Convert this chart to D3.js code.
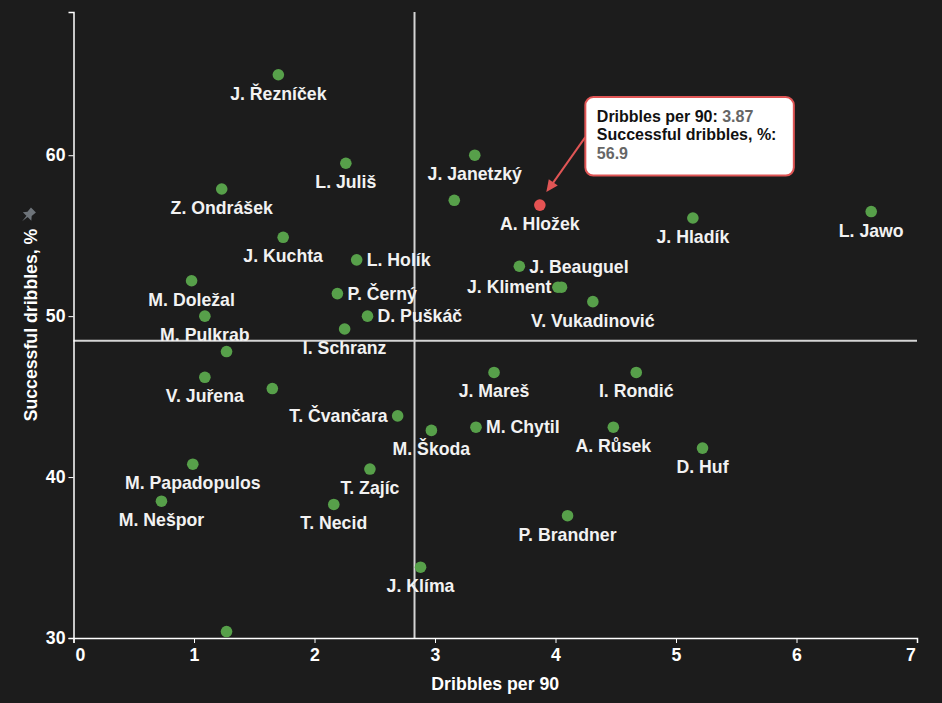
<!DOCTYPE html>
<html>
<head>
<meta charset="utf-8">
<script src="https://cdn.jsdelivr.net/npm/d3@7"></script>
<style>
  html, body { margin: 0; padding: 0; background: #1c1c1c; }
  svg { display: block; font-family: "Liberation Sans", Arial, sans-serif; }
</style>
</head>
<body>
<svg id="chart" width="942" height="703"></svg>
<script>
// ---- data ----
const players = ["J. Řezníček","Z. Ondrášek","J. Kuchta","M. Doležal","M. Pulkrab","L. Juliš","J. Janetzký","","A. Hložek",
  "L. Holík","P. Černý","D. Puškáč","I. Schranz","J. Beauguel","J. Kliment","","V. Vukadinović","J. Hladík","L. Jawo",
  "","V. Juřena","","T. Čvančara","M. Papadopulos","M. Nešpor","","J. Mareš","M. Škoda","M. Chytil","T. Zajíc",
  "T. Necid","P. Brandner","J. Klíma","A. Růsek","I. Rondić","D. Huf"];
const dribblesPer90 = [1.70,1.23,1.74,0.98,1.09,2.26,3.33,3.16,3.87,
  2.35,2.19,2.44,2.25,3.70,4.05,4.02,4.31,5.14,6.62,
  1.27,1.09,1.65,2.69,0.99,0.73,1.27,3.49,2.97,3.34,2.46,
  2.16,4.10,2.88,4.48,4.67,5.22];
const successPct = [65.0,57.9,54.9,52.2,50.0,59.5,60.0,57.2,56.9,
  53.5,51.4,50.0,49.2,53.1,51.8,51.8,50.9,56.1,56.5,
  47.8,46.2,45.5,43.8,40.8,38.5,30.4,46.5,42.9,43.1,40.5,
  38.3,37.6,34.4,43.1,46.5,41.8];
const labelSide = ["below","below","below","below","below","below","below","none","below",
  "right","right","right","below","right","left","none","below","below","below",
  "none","below","none","left","below","below","none","below","below","right","below",
  "below","below","below","below","below","below"];
const highlighted = "A. Hložek";
const xTicks = [0,1,2,3,4,5,6,7];
const yTicks = [30,40,50,60];
const xDomain = [0,7];
const yDomain = [30,68.9];
const avgX = 2.83;
const avgY = 48.47;
const xTitle = "Dribbles per 90";
const yTitle = "Successful dribbles, %";
const tooltipLines = [["Dribbles per 90: ","3.87"],["Successful dribbles, %: ",""],["","56.9"]];

// ---- layout ----
const W = 942, H = 703;
const FS = 17.7;
const margin = {left: 73.5, right: 25, top: 12, bottom: 65};
const svg = d3.select("#chart");
svg.append("rect").attr("width", W).attr("height", H).attr("fill", "#1c1c1c");

const x = d3.scaleLinear().domain(xDomain).range([margin.left, W - margin.right]);
const y = d3.scaleLinear().domain(yDomain).range([H - margin.bottom, margin.top]);

// average lines
svg.append("line").attr("x1", x(avgX)).attr("x2", x(avgX)).attr("y1", y(yDomain[0])).attr("y2", y(yDomain[1]))
  .attr("stroke", "#d4d4d4").attr("stroke-width", 2);
svg.append("line").attr("x1", x(xDomain[0])).attr("x2", x(xDomain[1])).attr("y1", y(avgY)).attr("y2", y(avgY))
  .attr("stroke", "#d4d4d4").attr("stroke-width", 2);

// axes
const xAxis = svg.append("g").attr("transform", `translate(0,${y(yDomain[0])})`)
  .call(d3.axisBottom(x).tickValues(xTicks).tickSize(5).tickPadding(5).tickFormat(d3.format("d")));
const yAxis = svg.append("g").attr("transform", `translate(${x(xDomain[0])},0)`)
  .call(d3.axisLeft(y).tickValues(yTicks).tickSize(5).tickPadding(3).tickFormat(d3.format("d")));
[xAxis, yAxis].forEach(g => {
  g.select(".domain").attr("stroke", "#ffffff").attr("stroke-width", 1.5);
  g.selectAll(".tick line").attr("stroke", "#ffffff");
  g.selectAll(".tick text").attr("fill", "#ffffff").attr("font-size", FS).attr("font-weight", "bold")
    .attr("font-family", "'Liberation Sans', Arial, sans-serif");
});
xAxis.selectAll(".tick text").attr("dx", d => d === xTicks[0] ? 6.5 : (d === xTicks[xTicks.length-1] ? -6.5 : 0));

// axis titles
svg.append("text").attr("x", (x(xDomain[0]) + x(xDomain[1])) / 2).attr("y", 690)
  .attr("text-anchor", "middle").attr("fill", "#ffffff").attr("font-size", FS).attr("font-weight", "bold").text(xTitle);
const yMid = (y(yDomain[0]) + y(yDomain[1])) / 2;
svg.append("text").attr("transform", `translate(36.5,${yMid}) rotate(-90)`)
  .attr("text-anchor", "middle").attr("fill", "#ffffff").attr("font-size", FS).attr("font-weight", "bold").text(yTitle);
// pin icon
svg.append("g").attr("transform", `translate(28.5,${yMid - 110}) rotate(45)`)
  .append("path").attr("d", "M-3.5,-7 L3.5,-7 L3,-1.5 L6,2 L-6,2 L-3,-1.5 Z M-0.8,2 L0.8,2 L0,9 Z")
  .attr("fill", "#6e747a");

// points
const data = players.map((n, i) => ({name: n, dx: dribblesPer90[i], sp: successPct[i], side: labelSide[i]}));
svg.append("g").selectAll("circle").data(data).join("circle")
  .attr("cx", d => x(d.dx)).attr("cy", d => y(d.sp)).attr("r", 5.8)
  .attr("fill", d => d.name === highlighted ? "#e55353" : "#57a04a");

// labels
svg.append("g").selectAll("text").data(data.filter(d => d.side !== "none" && d.name)).join("text")
  .attr("x", d => d.side === "right" ? x(d.dx) + 10 : d.side === "left" ? x(d.dx) - 10 : x(d.dx))
  .attr("y", d => d.side === "below" ? y(d.sp) + 25 : y(d.sp) + 6.3)
  .attr("text-anchor", d => d.side === "right" ? "start" : d.side === "left" ? "end" : "middle")
  .attr("fill", "#f2f2f2").attr("font-size", FS).attr("font-weight", "bold")
  .text(d => d.name);

// tooltip / annotation
const hp = data.find(d => d.name === highlighted);
const px = x(hp.dx), py = y(hp.sp);
const tip = svg.append("g");
const bx = px + 45.5, by = py - 108, bw = 208.5, bh = 78.5;
const ax1 = bx, ay1 = by + 40, ax2 = px + 6.5, ay2 = py - 13;
tip.append("line").attr("x1", ax1).attr("y1", ay1).attr("x2", ax2 + 3).attr("y2", ay2 - 4)
  .attr("stroke", "#e05555").attr("stroke-width", 2);
const ang = Math.atan2(ay2 - ay1, ax2 - ax1);
const hl = 12, hw = 5.5;
const p1 = [ax2 - hl * Math.cos(ang) + hw * Math.sin(ang), ay2 - hl * Math.sin(ang) - hw * Math.cos(ang)];
const p2 = [ax2 - hl * Math.cos(ang) - hw * Math.sin(ang), ay2 - hl * Math.sin(ang) + hw * Math.cos(ang)];
tip.append("path").attr("d", `M${ax2},${ay2}L${p1[0]},${p1[1]}L${p2[0]},${p2[1]}Z`).attr("fill", "#e05555");
tip.append("rect").attr("x", bx).attr("y", by).attr("width", bw).attr("height", bh).attr("rx", 8)
  .attr("fill", "#ffffff").attr("stroke", "#e05555").attr("stroke-width", 2);
tooltipLines.forEach((ln, i) => {
  const t = tip.append("text").attr("x", bx + 11.5).attr("y", by + 24.5 + i * 18.8)
    .attr("font-size", 16).attr("font-weight", "bold");
  if (ln[0]) t.append("tspan").attr("fill", "#111111").text(ln[0]);
  if (ln[1]) t.append("tspan").attr("fill", "#666666").text(ln[1]);
});
</script>
</body>
</html>
